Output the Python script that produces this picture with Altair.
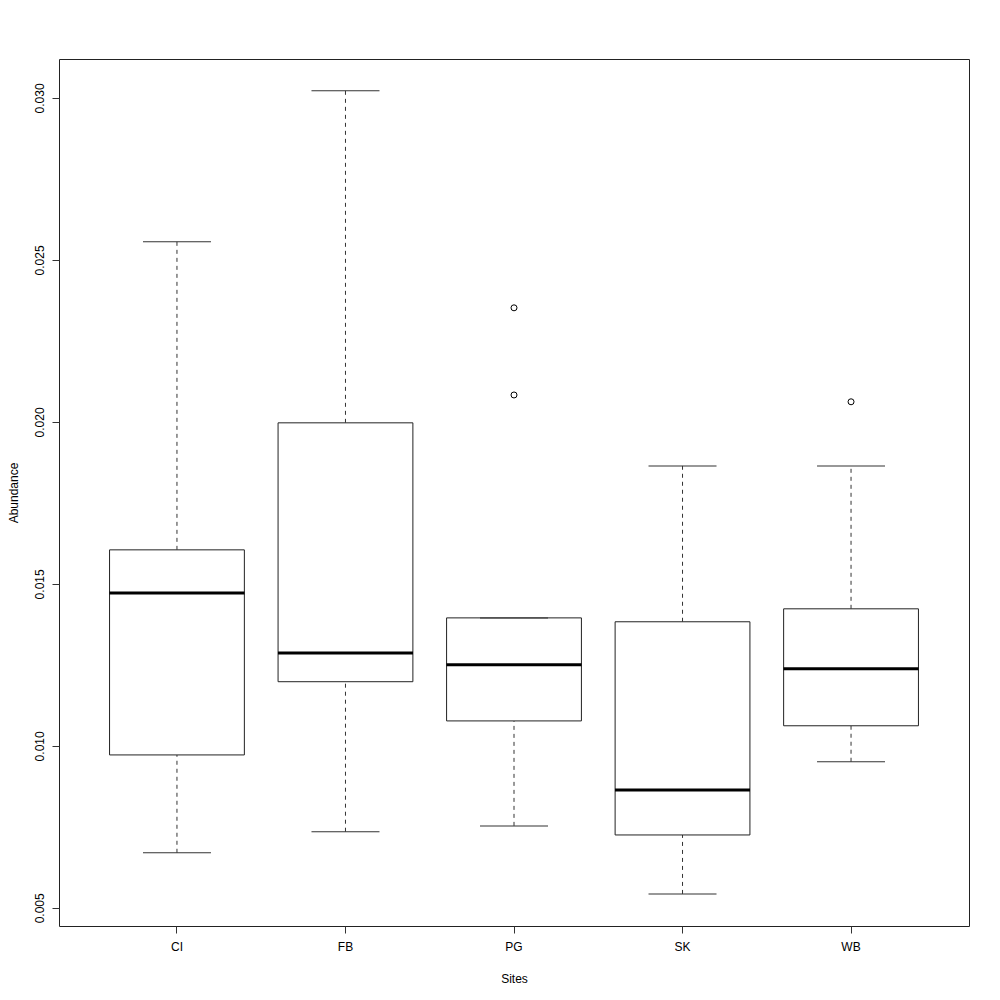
import altair as alt
import pandas as pd

sites = ["CI", "FB", "PG", "SK", "WB"]
lower = [0.00670, 0.00735, 0.00753, 0.00543, 0.00951]
q1 = [0.00972, 0.01198, 0.01077, 0.00725, 0.01062]
median = [0.01472, 0.01287, 0.01250, 0.00864, 0.01238]
q3 = [0.01605, 0.01997, 0.01395, 0.01383, 0.01423]
upper = [0.02556, 0.03022, 0.01395, 0.01864, 0.01864]

out_sites = ["PG", "PG", "WB"]
out_vals = [0.02352, 0.02083, 0.02062]

box = pd.DataFrame({"Site": sites, "lower": lower, "q1": q1, "median": median,
                    "q3": q3, "upper": upper})
outl = pd.DataFrame({"Site": out_sites, "value": out_vals})

xenc = alt.X("Site:N", sort=sites,
             scale=alt.Scale(paddingInner=0, paddingOuter=0.2),
             axis=alt.Axis(title="Sites", labelAngle=0, domain=False, grid=False,
                           tickSize=7, tickColor="#333", labelPadding=8,
                           labelFont="Liberation Sans", labelFontSize=12, labelColor="black",
                           titleFont="Liberation Sans", titleFontSize=12, titleFontWeight="normal",
                           titleColor="black", titlePadding=21))
yscale = alt.Scale(domain=[0.00444, 0.03120], nice=False, zero=False)
yaxis = alt.Axis(title="Abundance", values=[0.005, 0.010, 0.015, 0.020, 0.025, 0.030],
                 format=".3f", domain=False, grid=False, tickSize=7, tickColor="#333",
                 labelAngle=270, labelAlign="center", labelBaseline="bottom", labelPadding=6,
                 labelFont="Liberation Sans", labelFontSize=12, labelColor="black",
                 titleFont="Liberation Sans", titleFontSize=12, titleFontWeight="normal",
                 titleColor="black", titlePadding=13)

base = alt.Chart(box)

w_low = base.mark_rule(color="#333", strokeDash=[4, 4], strokeWidth=1, opacity=1).encode(
    x=xenc, y=alt.Y("lower:Q", scale=yscale, axis=yaxis), y2="q1:Q")
w_up = base.mark_rule(color="#333", strokeDash=[4, 4], strokeWidth=1, opacity=1).encode(
    x=xenc, y=alt.Y("q3:Q", scale=yscale, axis=yaxis), y2="upper:Q")
boxes = base.mark_bar(fill="white", stroke="#222", strokeWidth=1, opacity=1,
                      width=alt.RelativeBandSize(0.8)).encode(
    x=xenc, y=alt.Y("q1:Q", scale=yscale, axis=yaxis), y2="q3:Q")
cap_low = base.mark_tick(color="#333", size=68, thickness=1, opacity=1).encode(
    x=xenc, y=alt.Y("lower:Q", scale=yscale, axis=yaxis))
cap_up = base.mark_tick(color="#333", size=68, thickness=1, opacity=1).encode(
    x=xenc, y=alt.Y("upper:Q", scale=yscale, axis=yaxis))
med = base.mark_tick(color="black", size=135, thickness=3, opacity=1).encode(
    x=xenc, y=alt.Y("median:Q", scale=yscale, axis=yaxis))
pts = alt.Chart(outl).mark_point(shape="circle", filled=False, color="black",
                                 size=36, strokeWidth=1, opacity=1).encode(
    x=xenc, y=alt.Y("value:Q", scale=yscale, axis=yaxis))

chart = alt.layer(w_low, w_up, boxes, cap_low, cap_up, med, pts).properties(
    width=910, height=867,
    autosize=alt.AutoSizeParams(type="none"),
    padding={"left": 51, "top": 51, "right": 20, "bottom": 60},
).configure(background="white").configure_view(stroke="#222", strokeWidth=1)

chart.save("out.html", embed_options={"renderer": "svg", "actions": False})
